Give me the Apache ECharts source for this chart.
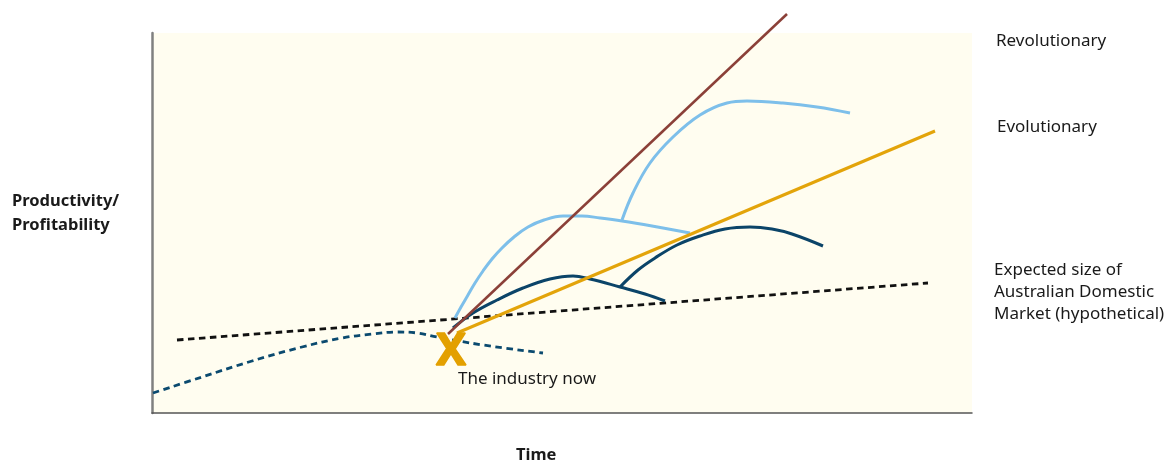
<!DOCTYPE html>
<html>
<head>
<meta charset="utf-8">
<script src="https://cdn.jsdelivr.net/npm/echarts@6/dist/echarts.min.js"></script>
<style>
html,body{margin:0;padding:0;background:#fff;}
#chart{width:1174px;height:461px;}
</style>
</head>
<body>
<div id="chart"></div>
<script>
// Conceptual chart: x = time units, y = productivity units
const marketSize = [[25,73],[776,130]];
const industryPast = [[1,20],[50,36],[100,52],[150,66],[190,75],[220,79],[245,81],[265,80],[285,76],[331,68],[391,60]];
const revolutionary = [[296,79],[635,399]];
const evolutionary = [[305,80],[783,282]];
const lightCurve1 = [[303,95],[309,106],[316,118],[323,130],[331,142],[340,154],[350,165],[362,176],[376,186],[392,193],[411,197],[430,197],[448,195],[470,192],[500,187],[538,180]];
const lightCurve2 = [[470,193],[481,220],[498,250],[521,276],[548,298],[575,310],[595,312],[631,310],[665,306],[698,300]];
const darkCurve1 = [[301,85],[321,100],[345,113],[371,125],[398,134],[421,137],[438,134],[468,126],[493,119],[513,112]];
const darkCurve2 = [[468,126],[486,143],[503,155],[525,168],[548,177],[573,184],[598,186],[620,184],[640,179],[671,167]];
const nowPoint = [[299,63]];
const labels = {
  yName: ['Productivity/', 'Profitability'],
  xName: 'Time',
  revolutionary: 'Revolutionary',
  evolutionary: 'Evolutionary',
  market: ['Expected size of', 'Australian Domestic', 'Market (hypothetical)'],
  now: 'The industry now'
};

const FONT = "'Noto Sans', 'Open Sans', sans-serif";
const chart = echarts.init(document.getElementById('chart'), null, {renderer: 'canvas'});

function lineSeries(data, color, width, dashed, smooth) {
  return {
    type: 'line', data: data, showSymbol: false, symbol: 'none', clip: false,
    smooth: smooth ? 0.4 : false, silent: true, z: dashed ? 2 : 3,
    lineStyle: {color: color, width: width, type: dashed ? [6.5, 4.5] : 'solid', cap: 'butt'}
  };
}

const option = {
  backgroundColor: '#ffffff',
  animation: false,
  grid: {left: 152, right: 202, top: 33, bottom: 48, show: true, backgroundColor: '#fffdf0', borderWidth: 0},
  xAxis: {
    type: 'value', min: 0, max: 820,
    axisLine: {show: true, onZero: false, lineStyle: {color: '#555555', width: 1.5}},
    axisTick: {show: false}, axisLabel: {show: false}, splitLine: {show: false}
  },
  yAxis: {
    type: 'value', min: 0, max: 380,
    axisLine: {show: true, onZero: false, lineStyle: {color: '#808080', width: 2.5}},
    axisTick: {show: false}, axisLabel: {show: false}, splitLine: {show: false}
  },
  series: [
    lineSeries(marketSize, '#111111', 2.8, true, false),
    lineSeries(industryPast, '#0b4a6f', 2.8, true, true),
    lineSeries(lightCurve1, '#7dbfea', 3, false, true),
    lineSeries(lightCurve2, '#7dbfea', 3, false, true),
    lineSeries(darkCurve1, '#0b4468', 3, false, true),
    lineSeries(darkCurve2, '#0b4468', 3, false, true),
    lineSeries(revolutionary, '#8b4038', 2.5, false, false),
    lineSeries(evolutionary, '#e3a40a', 3, false, false),
    {
      type: 'scatter', data: nowPoint, symbolSize: 0, silent: true, z: 5,
      itemStyle: {opacity: 1},
      label: {
        show: true, position: 'inside', offset: [0, 2], formatter: 'X',
        color: '#e3a000', fontSize: 45, fontWeight: 'bold', fontFamily: FONT,
        textBorderColor: '#e3a000', textBorderWidth: 1.5
      }
    },
    {
      type: 'scatter', data: nowPoint, symbolSize: 0, silent: true, z: 5,
      itemStyle: {opacity: 1},
      label: {
        show: true, position: 'inside', offset: [76, 29], formatter: labels.now,
        color: '#1a1a1a', fontSize: 17, fontFamily: FONT
      }
    }
  ],
  graphic: [
    {type: 'text', left: 12, top: 189, style: {text: labels.yName.join('\n'), font: 'bold 16.5px ' + FONT, fill: '#1a1a1a', lineHeight: 24}},
    {type: 'text', left: 516, top: 447, style: {text: labels.xName, font: 'bold 16.5px ' + FONT, fill: '#1a1a1a'}},
    {type: 'text', left: 996, top: 33, style: {text: labels.revolutionary, font: '17px ' + FONT, fill: '#1a1a1a'}},
    {type: 'text', left: 997, top: 119, style: {text: labels.evolutionary, font: '17px ' + FONT, fill: '#1a1a1a'}},
    {type: 'text', left: 994, top: 259, style: {text: labels.market.join('\n'), font: '17px ' + FONT, fill: '#1a1a1a', lineHeight: 22}}
  ]
};
chart.setOption(option);
</script>
</body>
</html>
